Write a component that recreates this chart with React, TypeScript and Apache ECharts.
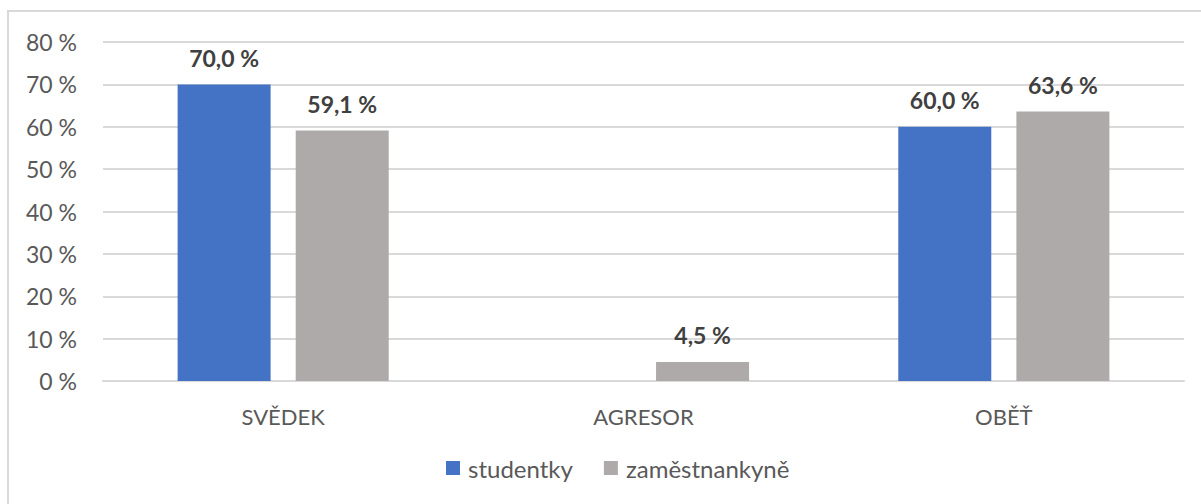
import React, { useEffect, useRef } from "react";
import * as echarts from "echarts";

const categories = ["SVĚDEK", "AGRESOR", "OBĚŤ"];
const seriesNames = ["studentky", "zaměstnankyně"];
const studentky: (number | null)[] = [70.0, null, 60.0];
const zamestnankyne: (number | null)[] = [59.1, 4.5, 63.6];
const colors = ["#4472C4", "#AEAAAA"];

const FONT = "Lato";

const fmt = (v: number) => v.toFixed(1).replace(".", ",") + " %";

export default function App() {
  const ref = useRef<HTMLDivElement>(null);
  useEffect(() => {
    document.body.style.margin = "0";
    if (!ref.current) return;
    const chart = echarts.init(ref.current, null, { renderer: "svg" });
    const label = {
      show: true,
      position: "top" as const,
      distance: 15,
      fontFamily: FONT,
      fontSize: 23,
      fontWeight: "bold" as const,
      color: "#404040",
      formatter: (p: any) => (p.value == null ? "" : fmt(p.value)),
    };
    chart.setOption({
      animation: false,
      backgroundColor: "#ffffff",
      textStyle: { fontFamily: FONT },
      graphic: [
        {
          type: "rect",
          shape: { x: 8, y: 11, width: 1400, height: 700 },
          style: { fill: "none", stroke: "#d9d9d9", lineWidth: 2 },
          silent: true,
          z: -10,
        },
      ],
      grid: { left: 103, right: 17, top: 42, bottom: 123, containLabel: false },
      legend: {
        bottom: 19,
        left: 441,
        itemWidth: 14,
        itemHeight: 14,
        itemGap: 31,
        icon: "rect",
        textStyle: { fontFamily: FONT, fontSize: 24, color: "#595959", padding: [0, 0, 0, 3] },
        data: seriesNames,
      },
      xAxis: {
        type: "category",
        data: categories,
        axisLine: { show: true, lineStyle: { color: "#d9d9d9", width: 2 } },
        axisTick: { show: false },
        axisLabel: { fontFamily: FONT, fontSize: 22, color: "#595959", margin: 24 },
      },
      yAxis: {
        type: "value",
        min: 0,
        max: 80,
        interval: 10,
        axisLine: { show: false },
        axisTick: { show: false },
        splitLine: { lineStyle: { color: "#d9d9d9", width: 2 } },
        axisLabel: {
          fontFamily: FONT,
          fontSize: 23,
          color: "#595959",
          margin: 26,
          formatter: (v: number) => `${v} %`,
        },
      },
      series: [
        {
          name: seriesNames[0],
          type: "bar",
          data: studentky,
          barWidth: 93,
          barGap: "27%",
          itemStyle: { color: colors[0] },
          label,
        },
        {
          name: seriesNames[1],
          type: "bar",
          data: zamestnankyne,
          barWidth: 93,
          barGap: "27%",
          itemStyle: { color: colors[1] },
          label,
        },
      ],
    });
    return () => chart.dispose();
  }, []);
  return <div ref={ref} style={{ width: 1201, height: 504 }} />;
}
